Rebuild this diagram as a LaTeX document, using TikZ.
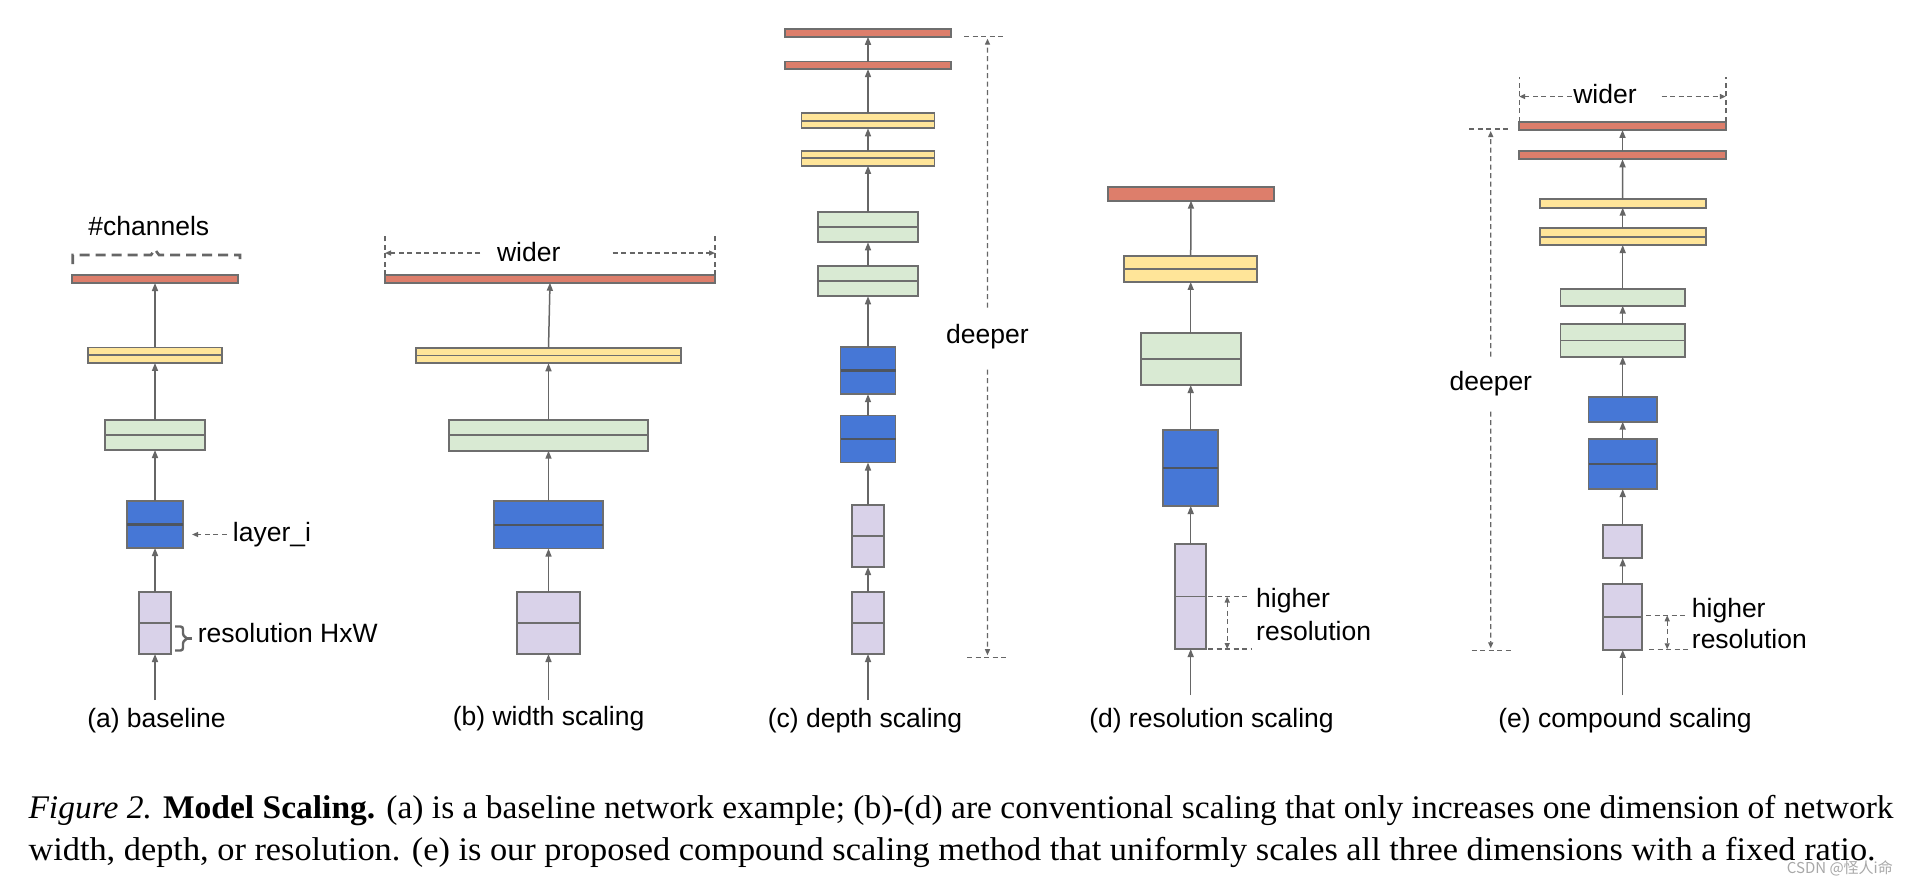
\documentclass[tikz,border=0pt]{standalone}
\usepackage{fontspec}
\usepackage{graphicx}
\setmainfont{Liberation Sans}
\newfontfamily\capfont{Liberation Serif}
\newfontfamily\cjkfont{Noto Sans CJK SC}
\usetikzlibrary{arrows.meta}
\definecolor{cred}{HTML}{DD7E6B}
\definecolor{cyel}{HTML}{FFE599}
\definecolor{cgrn}{HTML}{D9EAD3}
\definecolor{cblu}{HTML}{4677D6}
\definecolor{clav}{HTML}{D9D2E9}
\definecolor{edgec}{HTML}{6E6E6E}
\definecolor{arrc}{HTML}{666666}
\definecolor{bluemid}{HTML}{4E5560}
\definecolor{wmgray}{HTML}{A8A8A8}
\tikzset{
  lay/.style={draw=edgec, line width=1.8pt, inner sep=0pt, outer sep=0pt},
  midl/.style={draw=edgec, line width=1.8pt},
  midb/.style={draw=bluemid, line width=2.6pt},
  flow/.style={draw=arrc, line width=1.5pt, -{Triangle[length=8pt,width=6pt]}},
  dsh/.style={draw=arrc, line width=1.3pt, dash pattern=on 5pt off 3.5pt},
  dtip/.style={dsh, -{Triangle[length=6pt,width=5pt]}},
  dtips/.style={dsh, {Triangle[length=6pt,width=5pt]}-{Triangle[length=6pt,width=5pt]}},
  brk/.style={draw=arrc, line width=2.6pt, dash pattern=on 10pt off 6pt},
  brc/.style={draw=arrc, line width=2.4pt, rounded corners=2.5pt},
  lbl/.style={font=\fontsize{26.5}{32}\selectfont, inner sep=0pt, text=black},
}
\newcommand{\Lay}[6]{\node[lay,fill=#2,minimum width=#5pt,minimum height=#6pt] (#1) at (#3,#4) {};}
\newcommand{\Mid}[1]{\draw[midl] (#1.west) -- (#1.east);}
\newcommand{\MidB}[1]{\draw[midb] (#1.west) -- (#1.east);}
\begin{document}
\begin{tikzpicture}[x=1pt,y=-1pt]
\useasboundingbox[fill=white] (0,0) rectangle (1910,884);

% ---------------- (a) baseline ----------------
\Lay{a5}{cred}{155}{279}{165.6}{8}
\Lay{a4}{cyel}{155}{355.2}{134}{15.5}\Mid{a4}
\Lay{a3}{cgrn}{155}{435}{100.7}{30}\Mid{a3}
\Lay{a2}{cblu}{155}{524.5}{55.3}{47}\MidB{a2}
\Lay{a1}{clav}{155}{623}{31.7}{62}\Mid{a1}
\coordinate (a0) at (155,700);
\draw[flow] (a0) -- (a1.south);
\draw[flow] (a1.north) -- (a2.south);
\draw[flow] (a2.north) -- (a3.south);
\draw[flow] (a3.north) -- (a4.south);
\draw[flow] (a4.north) -- (a5.south);
\node[lbl, anchor=base] (la) at (156.5,727) {(a) baseline};
\node[lbl, anchor=base] (chan) at (148.8,235) {\#channels};
\draw[brk] (72.7,264) -- (72.7,255) -- (151,255) -- (155,249.5) -- (159,255) -- (240,255) -- (240,264);
\node[lbl, anchor=west] (layi) at (232.7,534.5) {layer\_i};
\draw[dtip, shorten <=6pt, shorten >=9.4pt] (layi.west) -- (layi.west -| a2.east);
\node[lbl, anchor=base west] (resa) at (197.7,642.5) {resolution HxW};
\draw[brc] (175,626.5) -- (183,626.5) -- (183,636) -- (188,638.5) -- (183,641) -- (183,650.5) -- (175,650.5);
\draw[draw=arrc, line width=2.2pt] (187,638.5) -- (191.5,638.5);

% ---------------- (b) width scaling ----------------
\Lay{b5}{cred}{550}{279}{330}{7.5}
\Lay{b4}{cyel}{548.5}{355.5}{265.6}{15.5}\Mid{b4}
\Lay{b3}{cgrn}{548.5}{435.2}{199}{31}\Mid{b3}
\Lay{b2}{cblu}{548.5}{524.8}{109.6}{47.5}\MidB{b2}
\Lay{b1}{clav}{548.5}{623}{62.4}{62}\Mid{b1}
\coordinate (b0) at (548.5,700);
\draw[flow] (b0) -- (b1.south);
\draw[flow] (b1.north) -- (b2.south);
\draw[flow] (b2.north) -- (b3.south);
\draw[flow] (b3.north) -- (b4.south);
\draw[flow] (b4.north) -- (b5.south);
\node[lbl, anchor=base] (lb) at (548.6,725) {(b) width scaling};
\node[lbl, anchor=base] (widb) at (528.7,261) {wider};
\draw[dsh] (b5.north west) -- ++(0,-40);
\draw[dsh] (b5.north east) -- ++(0,-40);
\draw[dtip, shorten <=16.7pt] ([yshift=-1.5pt]widb.west) -- ([yshift=-1.5pt]widb.west -| b5.west);
\draw[dtip, shorten <=52pt] ([yshift=-1.5pt]widb.east) -- ([yshift=-1.5pt]widb.east -| b5.east);

% ---------------- (c) depth scaling ----------------
\Lay{c10}{cred}{868}{33}{165.7}{7.6}
\Lay{c9}{cred}{868}{65.3}{165.7}{7.6}
\Lay{c8}{cyel}{868}{120.8}{133}{15}\Mid{c8}
\Lay{c7}{cyel}{868}{158.3}{133}{15}\Mid{c7}
\Lay{c6}{cgrn}{868}{227}{99.7}{30.6}\Mid{c6}
\Lay{c5}{cgrn}{868}{281}{99.7}{30.6}\Mid{c5}
\Lay{c4}{cblu}{868}{370.7}{55}{47}\MidB{c4}
\Lay{c3}{cblu}{868}{439}{55}{47}\MidB{c3}
\Lay{c2}{clav}{868}{536}{31.4}{62}\Mid{c2}
\Lay{c1}{clav}{868}{623}{31.4}{62}\Mid{c1}
\coordinate (c0) at (868,700);
\draw[flow] (c0) -- (c1.south);
\draw[flow] (c1.north) -- (c2.south);
\draw[flow] (c2.north) -- (c3.south);
\draw[flow] (c3.north) -- (c4.south);
\draw[flow] (c4.north) -- (c5.south);
\draw[flow] (c5.north) -- (c6.south);
\draw[flow] (c6.north) -- (c7.south);
\draw[flow] (c7.north) -- (c8.south);
\draw[flow] (c8.north) -- (c9.south);
\draw[flow] (c9.north) -- (c10.south);
\node[lbl, anchor=base] (lc) at (865,727) {(c) depth scaling};
\node[lbl, anchor=base] (deepc) at (987.4,343) {deeper};
\coordinate (ctop) at (987.5,36.7);
\coordinate (cbot) at (987.5,657.7);
\draw[dsh] ([xshift=-23.5pt]ctop) -- ([xshift=18pt]ctop);
\draw[dsh] ([xshift=-20.5pt]cbot) -- ([xshift=20.5pt]cbot);
\draw[dtip, shorten <=16pt, shorten >=2pt] (deepc.north) -- (ctop);
\draw[dtip, shorten <=21pt, shorten >=2.5pt] (deepc.south) -- (cbot);

% ---------------- (d) resolution scaling ----------------
\Lay{d5}{cred}{1191}{193.8}{165.7}{13.7}
\Lay{d4}{cyel}{1190.7}{268.8}{133.3}{26.3}\Mid{d4}
\Lay{d3}{cgrn}{1190.7}{359}{100}{52}\Mid{d3}
\Lay{d2}{cblu}{1190.7}{467.8}{55}{76.4}\MidB{d2}
\Lay{d1}{clav}{1190.7}{596.5}{31}{105}\Mid{d1}
\coordinate (d0) at (1190.7,695);
\draw[flow] (d0) -- (d1.south);
\draw[flow] (d1.north) -- (d2.south);
\draw[flow] (d2.north) -- (d3.south);
\draw[flow] (d3.north) -- (d4.south);
\draw[flow] (d4.north) -- (d5.south);
\node[lbl, anchor=base] (ld) at (1211.5,727) {(d) resolution scaling};
\node[lbl, anchor=base west] (hd1) at (1256,607.5) {higher};
\node[lbl, anchor=base west] (hd2) at (1256,640.7) {resolution};
\draw[dsh] ([xshift=2pt]d1.east) -- ++(40,0);
\draw[dsh] ([xshift=2pt]d1.south east) -- ++(43,0);
\draw[dtips] ([xshift=21pt]d1.east) -- ([xshift=21pt]d1.south east);

% ---------------- (e) compound scaling ----------------
\Lay{e10}{cred}{1622.5}{125.8}{206.7}{8.3}
\Lay{e9}{cred}{1622.5}{155}{206.7}{8.6}
\Lay{e8}{cyel}{1622.7}{203.5}{166}{8.4}
\Lay{e7}{cyel}{1622.7}{236.7}{166}{16.7}\Mid{e7}
\Lay{e6}{cgrn}{1622.7}{297.5}{124.6}{16.4}
\Lay{e5}{cgrn}{1622.7}{340.5}{124.6}{32.4}\Mid{e5}
\Lay{e4}{cblu}{1622.7}{409.5}{68.3}{24.4}
\Lay{e3}{cblu}{1622.7}{464}{68.3}{50}\MidB{e3}
\Lay{e2}{clav}{1622.7}{541.7}{39}{33.3}
\Lay{e1}{clav}{1622.7}{616.8}{39}{66.3}\Mid{e1}
\coordinate (e0) at (1622.7,695);
\draw[flow] (e0) -- (e1.south);
\draw[flow] (e1.north) -- (e2.south);
\draw[flow] (e2.north) -- (e3.south);
\draw[flow] (e3.north) -- (e4.south);
\draw[flow] (e4.north) -- (e5.south);
\draw[flow] (e5.north) -- (e6.south);
\draw[flow] (e6.north) -- (e7.south);
\draw[flow] (e7.north) -- (e8.south);
\draw[flow] (e8.north) -- (e9.south);
\draw[flow] (e9.north) -- (e10.south);
\node[lbl, anchor=base] (le) at (1625,727) {(e) compound scaling};
% wider
\node[lbl, anchor=base] (wide) at (1605,103) {wider};
\draw[dsh] (e10.north west) -- ++(0,-45);
\draw[dsh] (e10.north east) -- ++(0,-45);
\draw[dtip, shorten <=1.5pt] ([yshift=-3pt]wide.west) -- ([yshift=-3pt]wide.west -| e10.west);
\draw[dtip, shorten <=24.7pt] ([yshift=-3pt]wide.east) -- ([yshift=-3pt]wide.east -| e10.east);
% deeper
\node[lbl, anchor=base] (deepe) at (1490.8,390) {deeper};
\coordinate (etop) at (1490.7,129);
\coordinate (ebot) at (1490.7,650.7);
\draw[dsh] ([xshift=-21.4pt]etop) -- ([xshift=19.3pt]etop);
\draw[dsh] ([xshift=-19pt]ebot) -- ([xshift=21pt]ebot);
\draw[dtip, shorten <=14pt, shorten >=2pt] (deepe.north) -- (etop);
\draw[dtip, shorten <=16pt, shorten >=2.4pt] (deepe.south) -- (ebot);
% higher resolution
\node[lbl, anchor=base west] (he1) at (1691.7,617.3) {higher};
\node[lbl, anchor=base west] (he2) at (1691.7,648.5) {resolution};
\draw[dsh] ([xshift=4pt,yshift=1.5pt]e1.east) -- ++(40,0);
\draw[dsh] ([xshift=7pt,yshift=0.7pt]e1.south east) -- ++(39,0);
\draw[dtips] ([xshift=25pt,yshift=1.5pt]e1.east) -- ([xshift=25pt,yshift=0.7pt]e1.south east);

% ---------------- caption ----------------
\node[anchor=base west, inner sep=0pt] (cap1) at (28.3,818.3) {\resizebox{1865pt}{\height}{\capfont\fontsize{33}{40}\selectfont\textit{Figure 2.} \textbf{Model Scaling.} (a) is a baseline network example; (b)-(d) are conventional scaling that only increases one dimension of network}};
\node[anchor=base west, inner sep=0pt] (cap2) at (28.3,860) {\resizebox{1847pt}{\height}{\capfont\fontsize{33}{40}\selectfont width, depth, or resolution. (e) is our proposed compound scaling method that uniformly scales all three dimensions with a fixed ratio.}};
\node[anchor=base east, inner sep=0pt, text=wmgray, font=\cjkfont\fontsize{15}{18}\selectfont] (wm) at (1893,873) {CSDN @怪人i命};
\end{tikzpicture}
\end{document}
